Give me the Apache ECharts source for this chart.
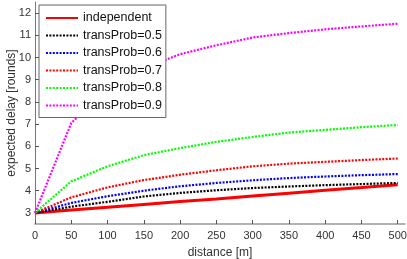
<!DOCTYPE html>
<html><head><meta charset="utf-8">
<script src="https://cdn.jsdelivr.net/npm/echarts@6/dist/echarts.min.js"></script>
<style>html,body{margin:0;padding:0;background:#fff}#c{width:407px;height:259px}</style>
</head><body><div id="c"></div>
<script>
const distance = [0, 50, 100, 150, 200, 250, 300, 350, 400, 450, 500];
const independent = [3, 3.13, 3.25, 3.38, 3.51, 3.63, 3.76, 3.89, 4.02, 4.14, 4.27];
const tp05 = [3, 3.28, 3.5, 3.74, 3.9, 4.02, 4.12, 4.19, 4.25, 4.3, 4.35];
const tp06 = [3, 3.45, 3.75, 4.0, 4.2, 4.35, 4.47, 4.57, 4.64, 4.7, 4.75];
const tp07 = [3, 3.7, 4.15, 4.48, 4.72, 4.92, 5.1, 5.22, 5.3, 5.38, 5.45];
const tp08 = [3, 4.42, 5.1, 5.6, 5.92, 6.2, 6.42, 6.62, 6.74, 6.86, 6.96];
const tp09 = [3, 7.05, 8.6, 9.5, 10.15, 10.55, 10.9, 11.1, 11.27, 11.4, 11.52];
const xTicks = [0, 50, 100, 150, 200, 250, 300, 350, 400, 450, 500];
const yTicks = [3, 4, 5, 6, 7, 8, 9, 10, 11, 12];
const names = ['independent', 'transProb=0.5', 'transProb=0.6', 'transProb=0.7', 'transProb=0.8', 'transProb=0.9'];
const colors = ['#ff0000', '#000000', '#0000ff', '#ff0000', '#00ff00', '#ff00ff'];
const values = [independent, tp05, tp06, tp07, tp08, tp09];

const font = 'Liberation Sans, Arial, Helvetica, sans-serif';
const chart = echarts.init(document.getElementById('c'), null, {renderer: 'canvas'});
const series = names.map((n, i) => ({
  name: n,
  type: 'line',
  data: distance.map((d, k) => [d, values[i][k]]),
  showSymbol: false,
  symbol: 'none',
  smooth: false,
  animation: false,
  color: colors[i],
  lineStyle: i === 0 ? {color: colors[i], width: 3, type: 'solid'} : {color: colors[i], width: 2.2, type: [2, 1.4]}
}));
chart.setOption({
  animation: false,
  backgroundColor: '#fff',
  grid: {left: 35, right: 2, top: 2, bottom: 35, containLabel: false, outerBoundsMode: 'none'},
  xAxis: {
    type: 'value', min: 0, max: 510,
    name: 'distance [m]', nameLocation: 'middle', nameGap: 23, nameMoveOverlap: false,
    nameTextStyle: {fontFamily: font, fontSize: 12, color: '#333'},
    axisLine: {show: true, lineStyle: {color: '#999', width: 1.5}},
    axisTick: {show: true, inside: true, length: 4, customValues: xTicks, lineStyle: {color: '#555'}},
    axisLabel: {customValues: xTicks, fontFamily: font, fontSize: 11, color: '#333', margin: 6},
    splitLine: {show: false}
  },
  yAxis: {
    type: 'value', min: 2.5, max: 12.5,
    name: 'expected delay [rounds]', nameLocation: 'middle', nameGap: 17, nameRotate: 90, nameMoveOverlap: false,
    nameTextStyle: {fontFamily: font, fontSize: 12, color: '#333'},
    axisLine: {show: true, lineStyle: {color: '#777', width: 1}},
    axisTick: {show: true, inside: true, length: 4, customValues: yTicks, lineStyle: {color: '#555'}},
    axisLabel: {customValues: yTicks, fontFamily: font, fontSize: 11, color: '#333', margin: 4},
    splitLine: {show: false}
  },
  legend: {
    data: names,
    orient: 'vertical',
    left: 39, top: 5,
    padding: [6, 4, 5, 6],
    itemWidth: 32, itemHeight: 4, itemGap: 3.5,
    itemStyle: {opacity: 0},
    backgroundColor: '#fff',
    borderColor: '#666', borderWidth: 1, borderRadius: 0,
    textStyle: {fontFamily: font, fontSize: 12.5, color: '#111', lineHeight: 14}
  },
  series: series
});
</script></body></html>
